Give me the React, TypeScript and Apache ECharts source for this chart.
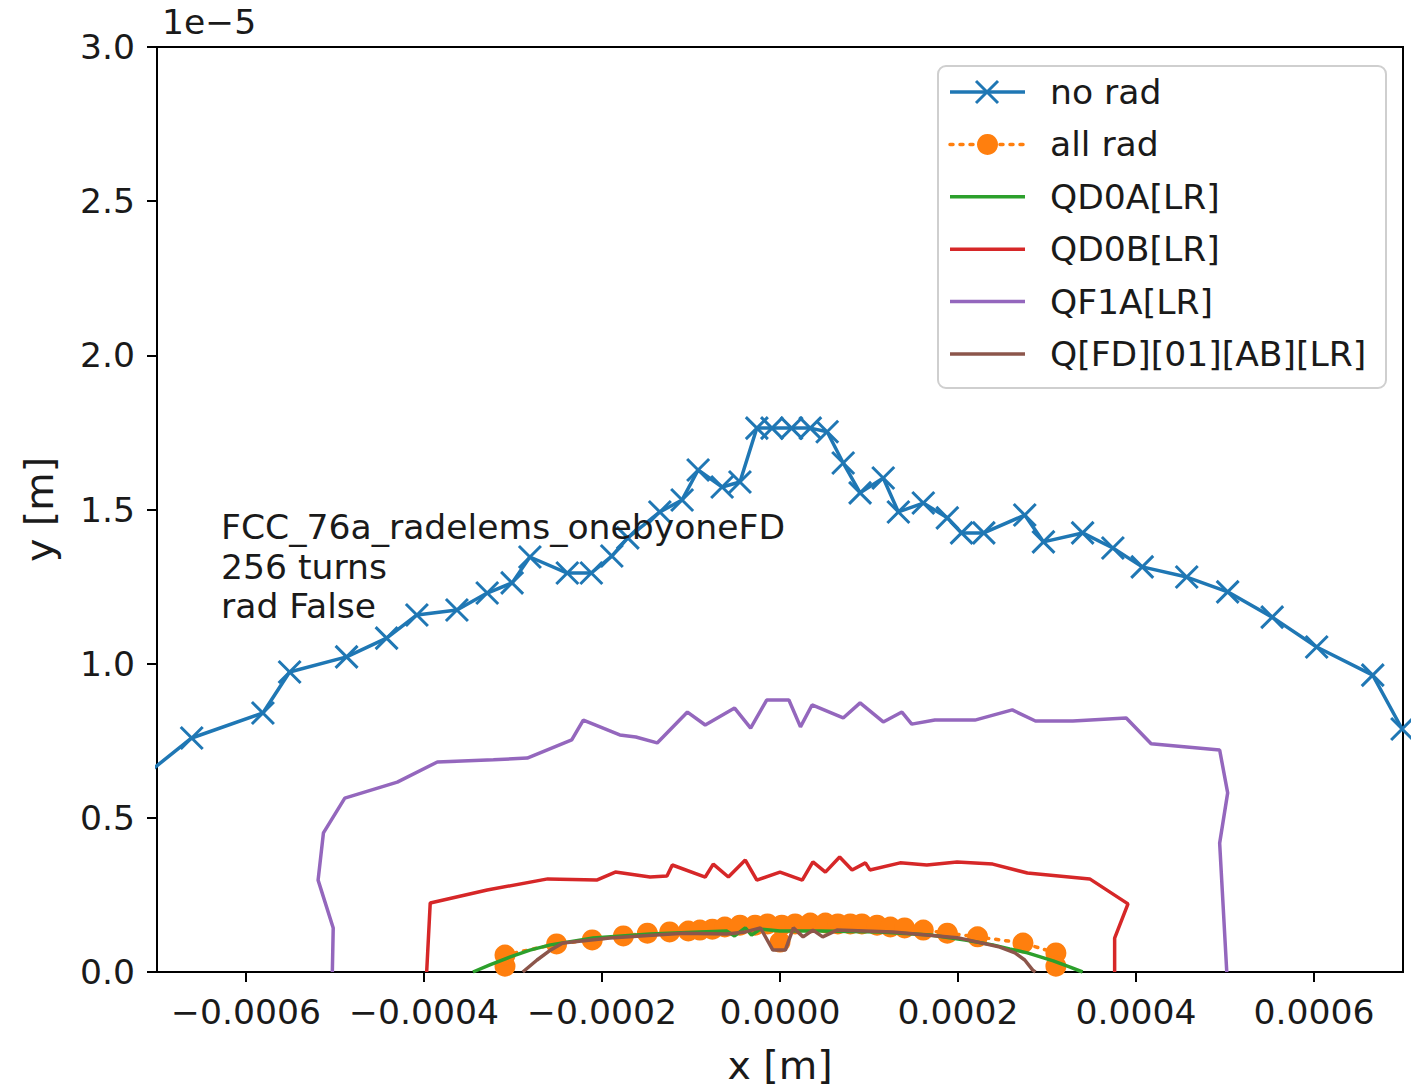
import React, { useEffect, useRef } from "react";
import * as echarts from "echarts";

// x in metres, y in units of 1e-5 m (the axis carries the "1e−5" multiplier)
const seriesNames = ["no rad", "all rad", "QD0A[LR]", "QD0B[LR]", "QF1A[LR]", "Q[FD][01][AB][LR]"];

const noRadX = [-0.00074, -0.000661, -0.000581, -0.000551, -0.000487, -0.000442, -0.000408, -0.000363, -0.000329, -0.000301, -0.000281, -0.000239, -0.000212, -0.000189, -0.000171, -0.000135, -0.00011, -0.000092, -0.000065, -0.000045, -0.000026, -0.000009, 0.000013, 0.000034, 0.000053, 0.000071, 0.00009, 0.000116, 0.000133, 0.000161, 0.000188, 0.000204, 0.000229, 0.000275, 0.000296, 0.00034, 0.000374, 0.000407, 0.000457, 0.000503, 0.000553, 0.000603, 0.000666, 0.000699];
const noRadY = [0.577, 0.759, 0.84, 0.973, 1.022, 1.083, 1.158, 1.174, 1.229, 1.262, 1.346, 1.294, 1.294, 1.349, 1.408, 1.492, 1.531, 1.628, 1.573, 1.589, 1.764, 1.764, 1.764, 1.764, 1.752, 1.651, 1.554, 1.602, 1.492, 1.521, 1.473, 1.424, 1.424, 1.482, 1.395, 1.424, 1.375, 1.314, 1.281, 1.233, 1.151, 1.054, 0.963, 0.788];

const allRadX = [-0.000309, -0.000309, -0.000251, -0.000211, -0.000176, -0.000149, -0.000124, -0.000103, -0.00009, -0.000076, -0.000062, -0.000045, -0.000028, -0.000014, 0, 0.000002, 0.000017, 0.000034, 0.000051, 0.000065, 0.000079, 0.000092, 0.000109, 0.000124, 0.00014, 0.000161, 0.000188, 0.000222, 0.000273, 0.00031, 0.00031];
const allRadY = [0.019, 0.055, 0.091, 0.104, 0.117, 0.126, 0.13, 0.133, 0.136, 0.139, 0.146, 0.152, 0.152, 0.156, 0.097, 0.152, 0.156, 0.159, 0.159, 0.156, 0.156, 0.156, 0.152, 0.146, 0.143, 0.136, 0.126, 0.114, 0.094, 0.062, 0.019];

const qd0aX = [-0.000345, -0.000326, -0.000303, -0.000281, -0.000258, -0.00021, -0.000146, -0.00009, -0.00006, -0.000051, -0.000039, -0.000032, -0.000022, 0, 0.000045, 0.000112, 0.000169, 0.000208, 0.000239, 0.000258, 0.000278, 0.000307, 0.000326, 0.00034];
const qd0aY = [0, 0.023, 0.049, 0.071, 0.088, 0.11, 0.123, 0.13, 0.133, 0.117, 0.143, 0.12, 0.139, 0.133, 0.133, 0.13, 0.12, 0.104, 0.088, 0.075, 0.062, 0.036, 0.016, 0];

const qd0bX = [-0.000397, -0.000393, -0.000329, -0.000261, -0.000206, -0.000185, -0.000146, -0.000127, -0.000121, -0.000084, -0.000075, -0.000058, -0.000039, -0.000026, 0, 0.000025, 0.000037, 0.000051, 0.000067, 0.000081, 0.000096, 0.000101, 0.000135, 0.000165, 0.000199, 0.000239, 0.000278, 0.000348, 0.000391, 0.000376, 0.000376];
const qd0bY = [0, 0.224, 0.266, 0.302, 0.298, 0.324, 0.308, 0.311, 0.347, 0.308, 0.35, 0.308, 0.363, 0.298, 0.324, 0.298, 0.357, 0.324, 0.373, 0.331, 0.354, 0.331, 0.354, 0.347, 0.357, 0.35, 0.321, 0.302, 0.221, 0.11, 0];

const qf1aX = [-0.000503, -0.000502, -0.000519, -0.000513, -0.000489, -0.00043, -0.000385, -0.000322, -0.000284, -0.000234, -0.000221, -0.00018, -0.000162, -0.000138, -0.000104, -0.000084, -0.000051, -0.000033, -0.000015, 0.00001, 0.000023, 0.000036, 0.000071, 0.00009, 0.000116, 0.000137, 0.000148, 0.000174, 0.000219, 0.000261, 0.000287, 0.000329, 0.000389, 0.000417, 0.000494, 0.000503, 0.000494, 0.000502];
const qf1aY = [0, 0.143, 0.298, 0.451, 0.564, 0.616, 0.681, 0.688, 0.694, 0.753, 0.817, 0.769, 0.762, 0.743, 0.843, 0.801, 0.856, 0.791, 0.882, 0.882, 0.795, 0.866, 0.824, 0.873, 0.811, 0.843, 0.804, 0.817, 0.817, 0.85, 0.814, 0.814, 0.824, 0.74, 0.72, 0.581, 0.418, 0];

const qfdX = [-0.000289, -0.000273, -0.000258, -0.000244, -0.000191, -0.000109, -0.00006, -0.000039, -0.000022, -0.000008, 0.000006, 0.000015, 0.000026, 0.000037, 0.000048, 0.000064, 0.000127, 0.000202, 0.000247, 0.000264, 0.000275, 0.000284, 0.000287];
const qfdY = [0, 0.039, 0.071, 0.094, 0.11, 0.126, 0.123, 0.13, 0.143, 0.071, 0.071, 0.143, 0.114, 0.136, 0.114, 0.136, 0.13, 0.11, 0.081, 0.062, 0.039, 0.006, 0];

const xTicks = [-0.0006, -0.0004, -0.0002, 0, 0.0002, 0.0004, 0.0006];
const yTicks = [0, 0.5, 1, 1.5, 2, 2.5, 3];
const annotationLines = ["FCC_76a_radelems_onebyoneFD", "256 turns", "rad False"];

const FONT = '"DejaVu Sans", sans-serif';
const INK = "#1a1a1a";
const FS = 34.6;
const COLORS = ["#1f77b4", "#ff7f0e", "#2ca02c", "#d62728", "#9467bd", "#8c564b"];
const LW = 3.5;
const CROSS = "path://M0,0L10,10M10,0L0,10";

const pairs = (xs: number[], ys: number[]) => xs.map((x, i) => [x, ys[i]]);
const minus = (s: string) => s.replace("-", "\u2212");

export default function App() {
  const ref = useRef<HTMLDivElement>(null);

  useEffect(() => {
    if (!ref.current) return;
    const chart = echarts.init(ref.current, null, { renderer: "svg" });

    const lineSeries = (i: number, xs: number[], ys: number[]) => ({
      name: seriesNames[i],
      type: "line",
      data: pairs(xs, ys),
      symbol: "none",
      clip: true,
      z: 2 + i,
      lineStyle: { color: COLORS[i], width: LW },
      itemStyle: { color: COLORS[i] },
    });

    const textStyle = (text: string) => ({
      text,
      fill: INK,
      font: `${FS}px ${FONT}`,
      align: "left",
      verticalAlign: "middle",
      textAlign: "left",
      textVerticalAlign: "middle",
    });

    // legend drawn as a framed box of handles and labels
    const legendTop = 92;
    const rowGap = 52.4;
    const legendEls: any[] = [
      {
        type: "rect",
        shape: { x: 938, y: 66, width: 448, height: 322, r: 8 },
        style: { fill: "rgba(255,255,255,0.85)", stroke: "#cfcfcf", lineWidth: 2 },
      },
    ];
    seriesNames.forEach((name, i) => {
      const y = legendTop + i * rowGap;
      legendEls.push({
        type: "line",
        shape: { x1: 950, y1: y, x2: 1025, y2: y },
        style: {
          stroke: COLORS[i],
          lineWidth: LW,
          lineDash: i === 1 ? [3, 7] : null,
          lineCap: i === 1 ? "round" : "butt",
        },
      });
      if (i === 0) {
        legendEls.push(
          { type: "line", shape: { x1: 976, y1: y - 11, x2: 998, y2: y + 11 }, style: { stroke: COLORS[0], lineWidth: 3 } },
          { type: "line", shape: { x1: 976, y1: y + 11, x2: 998, y2: y - 11 }, style: { stroke: COLORS[0], lineWidth: 3 } }
        );
      }
      if (i === 1) {
        legendEls.push({ type: "circle", shape: { cx: 987.5, cy: y, r: 10.5 }, style: { fill: COLORS[1] } });
      }
      legendEls.push({ type: "text", x: 1050, y, style: textStyle(name) });
    });

    const option: any = {
      animation: false,
      backgroundColor: "#ffffff",
      textStyle: { fontFamily: FONT },
      grid: {
        left: 157,
        right: 8,
        top: 47,
        bottom: 118,
        show: true,
        borderColor: "#000",
        borderWidth: 2,
        backgroundColor: "transparent",
        containLabel: false,
      },
      xAxis: {
        type: "value",
        min: -0.0007,
        max: 0.0007,
        name: "x [m]",
        nameLocation: "middle",
        nameGap: 73,
        nameTextStyle: { fontSize: 39.5, color: INK, fontFamily: FONT },
        axisLine: { show: false, onZero: false },
        axisTick: { show: true, length: 10, lineStyle: { color: "#000", width: 2 }, customValues: xTicks },
        axisLabel: {
          customValues: xTicks,
          formatter: (v: number) => minus(v.toFixed(4)),
          fontSize: FS,
          margin: 22,
          color: INK,
          fontFamily: FONT,
        },
        splitLine: { show: false },
      },
      yAxis: {
        type: "value",
        min: 0,
        max: 3,
        name: "y [m]",
        nameLocation: "middle",
        nameGap: 98,
        nameRotate: 90,
        nameTextStyle: { fontSize: 39.5, color: INK, fontFamily: FONT },
        axisLine: { show: false, onZero: false },
        axisTick: { show: true, length: 10, lineStyle: { color: "#000", width: 2 }, customValues: yTicks },
        axisLabel: {
          customValues: yTicks,
          formatter: (v: number) => v.toFixed(1),
          fontSize: FS,
          margin: 22,
          color: INK,
          fontFamily: FONT,
        },
        splitLine: { show: false },
      },
      series: [
        {
          name: seriesNames[0],
          type: "line",
          data: pairs(noRadX, noRadY),
          symbol: CROSS,
          symbolSize: 22,
          showSymbol: true,
          clip: true,
          z: 2,
          lineStyle: { color: COLORS[0], width: LW },
          itemStyle: { color: "none", borderColor: COLORS[0], borderWidth: 3 },
        },
        {
          name: seriesNames[1],
          type: "line",
          data: pairs(allRadX, allRadY),
          symbol: "circle",
          symbolSize: 21,
          showSymbol: true,
          clip: true,
          z: 3,
          lineStyle: { color: COLORS[1], width: LW, type: [3, 7], cap: "round" },
          itemStyle: { color: COLORS[1], borderWidth: 0 },
        },
        lineSeries(2, qd0aX, qd0aY),
        lineSeries(3, qd0bX, qd0bY),
        lineSeries(4, qf1aX, qf1aY),
        lineSeries(5, qfdX, qfdY),
      ],
      graphic: [
        { type: "text", x: 162, y: 22, z: 10, style: textStyle("1e\u22125") },
        ...annotationLines.map((t, i) => ({
          type: "text",
          x: 221,
          y: 527 + i * 39.5,
          z: 10,
          style: textStyle(t),
        })),
        { type: "group", z: 20, children: legendEls },
      ],
    };

    chart.setOption(option);
    return () => chart.dispose();
  }, []);

  return (
    <div
      ref={ref}
      style={{ position: "absolute", left: 0, top: 0, width: 1411, height: 1090, background: "#fff" }}
    />
  );
}
